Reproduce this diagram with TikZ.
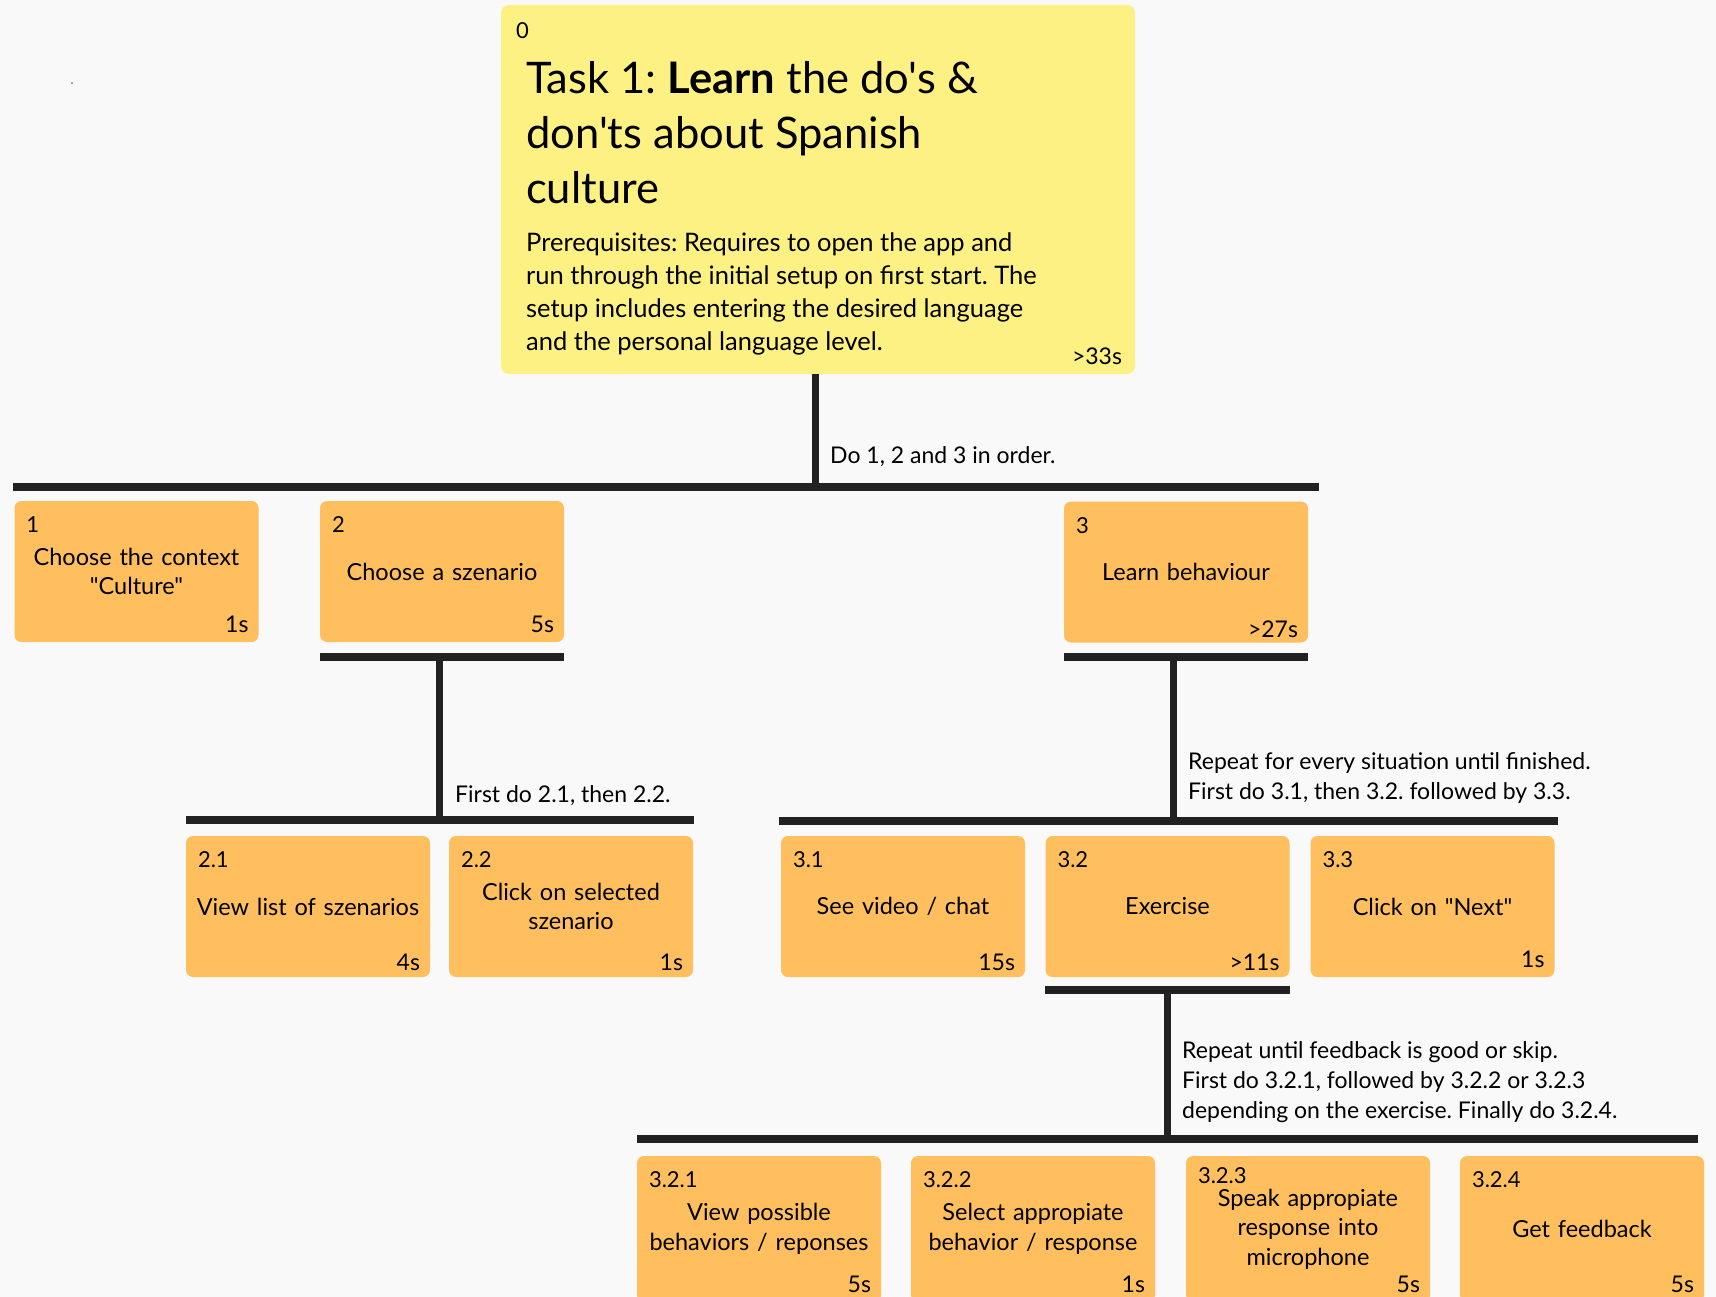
\documentclass[tikz,border=0pt]{standalone}
\usepackage{fontspec}
\setmainfont{Lato}[Ligatures=TeXOff]
\frenchspacing
\usetikzlibrary{positioning}
\definecolor{bgcol}{HTML}{F9F9F9}
\definecolor{rootyellow}{HTML}{FEF184}
\definecolor{taskorange}{HTML}{FFBF5E}
\definecolor{barcol}{HTML}{222222}
\tikzset{
    task/.style={rectangle, rounded corners=7pt, fill=taskorange, minimum width=244pt, minimum height=141pt, text width=230pt, align=center, inner sep=0pt, font=\fontsize{23.5}{29.5}\selectfont},
    numlbl/.style={anchor=north west, inner sep=0pt, xshift=12pt, yshift=-16pt, font=\fontsize{22}{25}\selectfont},
    timelbl/.style={anchor=base east, inner sep=0pt, xshift=-10pt, yshift=10pt, font=\fontsize{23}{25}\selectfont},
    bar/.style={line width=8pt, barcol},
    stem/.style={line width=7pt, barcol},
    plan/.style={anchor=west, align=left, inner sep=0pt, font=\fontsize{23}{30}\selectfont}
}

\begin{document}
\begin{tikzpicture}[x=1pt, y=-1pt]
        % Background and page frame
        \path[use as bounding box, fill=bgcol] (0,0) rectangle (1716,1297);
        \clip (0,0) rectangle (1716,1297);
        \fill[gray] (72,83) circle (1.2pt);

        % Top task
        \node[task, fill=rootyellow, minimum width=634pt, minimum height=369pt, rounded corners=8pt,
              label={[numlbl, xshift=3pt, yshift=-2pt]north west:0},
              label={[timelbl, xshift=-3pt]south east:>33s}] (root) at (818,189.5) {};
        \node[anchor=north west, align=left, inner sep=0pt, font=\fontsize{43.5}{55}\selectfont] (title) at (526,61)
            {Task 1: \textbf{Learn} the do's \&\\don'ts about Spanish\\culture};
        \node[anchor=north west, align=left, inner sep=0pt, font=\fontsize{25.5}{33}\selectfont] (prereq) at (526,233)
            {Prerequisites: Requires to open the app and\\run through the initial setup on first start. The\\setup includes entering the desired language\\and the personal language level.};

        % Level 1
        \coordinate (b0w) at (13,487);
        \coordinate (b0e) at (1319,487);
        \draw[bar] (b0w) -- (b0e);
        \draw[stem] ([xshift=-3pt]root.south) -- ([xshift=-3pt]root.south |- b0w);
        \node[plan] (p0) at (830,457) {Do 1, 2 and 3 in order.};

        \node[task, label={[numlbl]north west:1}, label={[timelbl]south east:1s}] (t1) at (136.5,571.5) {Choose the context\\"Culture"};
        \node[task, label={[numlbl]north west:2}, label={[timelbl]south east:5s}] (t2) at (442,571.5) {Choose a szenario};
        \node[task, label={[numlbl]north west:3}, label={[timelbl, yshift=-5pt]south east:>27s}] (t3) at (1186,572) {Learn behaviour};

        % Level 2, under task 2
        \coordinate (s2) at (439,657);
        \coordinate (b1w) at (186,820);
        \coordinate (b1e) at (694,820);
        \draw[bar] ([yshift=-15pt]t2.south west) -- ([yshift=-15pt]t2.south east);
        \draw[stem] (s2) -- (s2 |- b1w);
        \draw[bar] (b1w) -- (b1e);
        \node[plan] (p2) at (455,796) {First do 2.1, then 2.2.};

        \node[task, label={[numlbl]north west:2.1}, label={[timelbl, yshift=-3pt]south east:4s}] (t21) at (308,906.5) {View list of szenarios};
        \node[task, label={[numlbl]north west:2.2}, label={[timelbl, yshift=-3pt]south east:1s}] (t22) at (571,906.5) {Click on selected\\szenario};

        % Level 2, under task 3
        \coordinate (s3) at (1173,656);
        \coordinate (b2w) at (779,821);
        \coordinate (b2e) at (1558,821);
        \draw[bar] ([yshift=-14pt]t3.south west) -- ([yshift=-14pt]t3.south east);
        \draw[stem] (s3) -- (s3 |- b2w);
        \draw[bar] (b2w) -- (b2e);
        \node[plan] (p3) at (1188,778) {Repeat for every situation until finished.\\First do 3.1, then 3.2. followed by 3.3.};

        \node[task, label={[numlbl]north west:3.1}, label={[timelbl, yshift=-3pt]south east:15s}] (t31) at (903,906.5) {See video / chat};
        \node[task, label={[numlbl]north west:3.2}, label={[timelbl, yshift=-3pt]south east:>11s}] (t32) at (1167.5,906.5) {Exercise};
        \node[task, label={[numlbl]north west:3.3}, label={[timelbl]south east:1s}] (t33) at (1432.5,906.5) {Click on "Next"};

        % Level 3, under task 3.2
        \coordinate (b3w) at (637,1139);
        \coordinate (b3e) at (1698,1139);
        \draw[bar] ([yshift=-13pt]t32.south west) -- ([yshift=-13pt]t32.south east);
        \draw[stem] ([yshift=-13pt]t32.south) -- (t32.south |- b3w);
        \draw[bar] (b3w) -- (b3e);
        \node[plan] (p32) at (1182,1082.5) {Repeat until feedback is good or skip.\\First do 3.2.1, followed by 3.2.2 or 3.2.3\\depending on the exercise. Finally do 3.2.4.};

        \node[task, minimum height=146pt, label={[numlbl]north west:3.2.1}, label={[timelbl]south east:5s}] (t321) at (759,1229) {View possible\\behaviors / reponses};
        \node[task, minimum height=146pt, label={[numlbl]north west:3.2.2}, label={[timelbl]south east:1s}] (t322) at (1033,1229) {Select appropiate\\behavior / response};
        \node[task, minimum height=146pt, label={[numlbl, yshift=4pt]north west:3.2.3}, label={[timelbl]south east:5s}] (t323) at (1308,1229) {Speak appropiate\\response into\\microphone};
        \node[task, minimum height=146pt, label={[numlbl]north west:3.2.4}, label={[timelbl]south east:5s}] (t324) at (1582,1229) {Get feedback};
    \end{tikzpicture}
\end{document}
